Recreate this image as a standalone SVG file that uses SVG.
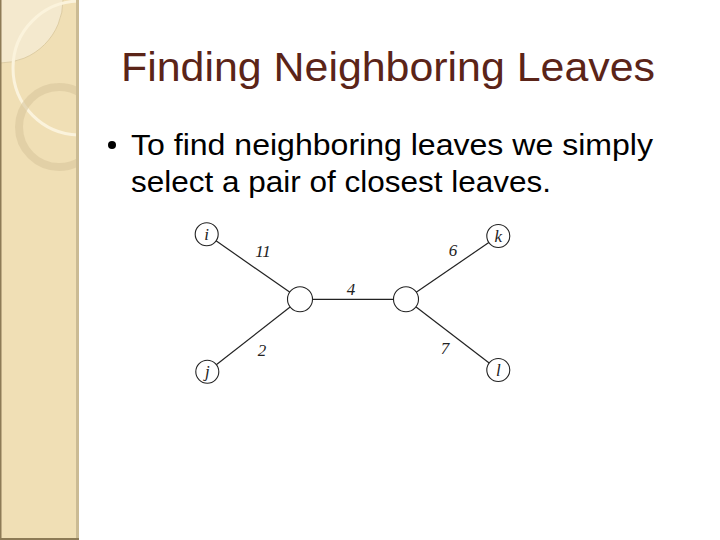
<svg xmlns="http://www.w3.org/2000/svg" width="720" height="540" viewBox="0 0 720 540">
<defs>
<clipPath id="side"><rect x="0" y="0" width="78" height="540"/></clipPath>
<style>
.edge{stroke:#222;stroke-width:1.2;fill:none}
.node circle{fill:#fff;stroke:#222;stroke-width:1.1}
.lbl{font-family:"Liberation Serif",serif;font-style:italic;font-size:17px;fill:#222;text-anchor:middle}
.w{font-family:"Liberation Serif",serif;font-style:italic;font-size:17px;fill:#222;text-anchor:middle}
</style>
</defs>
<rect width="720" height="540" fill="#fff"/>
<g id="sidebar">
<rect x="0" y="0" width="78" height="540" fill="#f0dfb5"/>
<g clip-path="url(#side)">
<circle cx="0" cy="0" r="63" fill="#f4e9ce" stroke="#d8c69c" stroke-width="0.8"/>
<circle cx="80" cy="68" r="67" fill="none" stroke="#fbf3dc" stroke-width="3"/>
<circle cx="59" cy="127" r="40" fill="none" stroke="#d9c79d" stroke-opacity="0.6" stroke-width="8"/>
</g>
<rect x="0" y="0" width="1.5" height="540" fill="#8d7b56"/>
<rect x="76" y="0" width="3" height="540" fill="#cbbb94"/>
<rect x="0" y="538" width="79" height="2" fill="#8d7b56"/>
</g>
<text id="title" x="121" y="81" font-family="Liberation Sans, Arial, sans-serif" font-size="40" fill="#5b2418" textLength="534" lengthAdjust="spacingAndGlyphs">Finding Neighboring Leaves</text>
<g id="bullet" font-family="Liberation Sans, Arial, sans-serif" font-size="30" fill="#000">
<circle cx="112" cy="145" r="4" fill="#000"/>
<text x="131" y="155" textLength="522" lengthAdjust="spacingAndGlyphs">To find neighboring leaves we simply</text>
<text x="131" y="192" textLength="420" lengthAdjust="spacingAndGlyphs">select a pair of closest leaves.</text>
</g>
<g id="connectors">
<line class="edge" x1="206.7" y1="234.3" x2="300" y2="299.3"/>
<line class="edge" x1="207.3" y1="371.7" x2="300" y2="299.3"/>
<line class="edge" x1="300" y1="299.3" x2="406" y2="299.3"/>
<line class="edge" x1="498.3" y1="236" x2="406" y2="299.3"/>
<line class="edge" x1="498.3" y1="370" x2="406" y2="299.3"/>
<text class="w" x="263" y="257">11</text>
<text class="w" x="453" y="256">6</text>
<text class="w" x="351" y="295">4</text>
<text class="w" x="262" y="356">2</text>
<text class="w" x="445" y="354">7</text>
</g>
<g id="node-i" class="node"><circle cx="206.7" cy="234.3" r="11.5"/><text class="lbl" x="206.7" y="240">i</text></g>
<g id="node-j" class="node"><circle cx="207.3" cy="371.7" r="11.5"/><text class="lbl" x="207.3" y="377">j</text></g>
<g id="node-k" class="node"><circle cx="498.3" cy="236" r="11.5"/><text class="lbl" x="498.3" y="242">k</text></g>
<g id="node-l" class="node"><circle cx="498.3" cy="370" r="11.5"/><text class="lbl" x="498.3" y="376">l</text></g>
<g id="node-u" class="node"><circle cx="300" cy="299.3" r="12.5"/></g>
<g id="node-v" class="node"><circle cx="406" cy="299.3" r="12.5"/></g>
</svg>
